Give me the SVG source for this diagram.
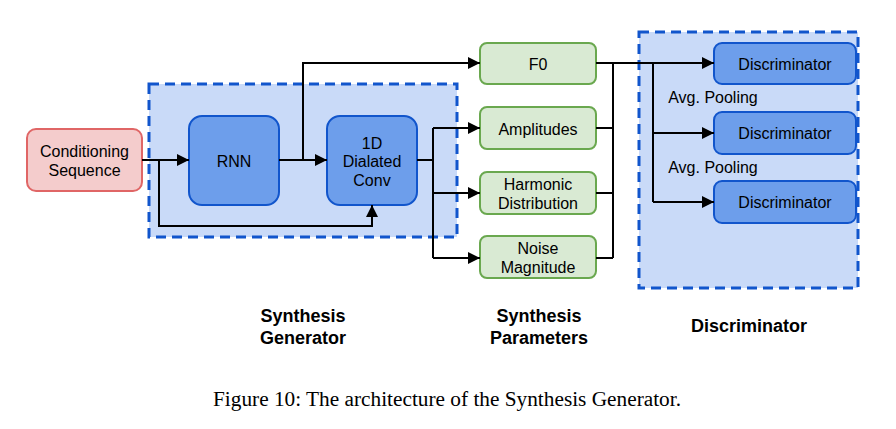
<svg xmlns="http://www.w3.org/2000/svg" width="896" height="429" viewBox="0 0 896 429">
<defs>
<style>
.t{font-family:"Liberation Sans",Arial,sans-serif;font-size:16px;fill:#000;text-anchor:middle;dominant-baseline:central}
.b{font-family:"Liberation Sans",Arial,sans-serif;font-size:18px;font-weight:bold;fill:#000;text-anchor:middle}
.grp{fill:#c9daf8;stroke:#1155cc;stroke-width:3;stroke-dasharray:10 6}
.blue{fill:#6d9eeb;stroke:#1155cc;stroke-width:2}
.green{fill:#d9ead3;stroke:#6aa84f;stroke-width:2}
.red{fill:#f4cccc;stroke:#e06666;stroke-width:2}
.c{fill:none;stroke:#000;stroke-width:2}
</style>
<marker id="ah" viewBox="0 0 10 10" refX="10" refY="5" markerWidth="7.5" markerHeight="6" markerUnits="strokeWidth" orient="auto">
<path d="M0,0 L10,5 L0,10 z" fill="#000"/>
</marker>
</defs>
<rect width="896" height="429" fill="#fff"/>
<g id="group-generator"><rect class="grp" x="149" y="84" width="308" height="153"/></g>
<g id="group-discriminator"><rect class="grp" x="639" y="32" width="219" height="256"/></g>
<g id="conditioning"><rect class="red" x="27" y="129" width="115" height="62" rx="9"/><text class="t" x="84.5" y="151">Conditioning</text><text class="t" x="84.5" y="170">Sequence</text></g>
<g id="rnn"><rect class="blue" x="189" y="116" width="90" height="89" rx="13"/><text class="t" x="234" y="161">RNN</text></g>
<g id="conv"><rect class="blue" x="327" y="116" width="90" height="89" rx="13"/><text class="t" x="372" y="143">1D</text><text class="t" x="372" y="161.5">Dialated</text><text class="t" x="372" y="180">Conv</text></g>
<g id="f0"><rect class="green" x="480" y="43" width="116" height="41" rx="7"/><text class="t" x="538" y="64">F0</text></g>
<g id="amplitudes"><rect class="green" x="480" y="107" width="116" height="42" rx="7"/><text class="t" x="538" y="129">Amplitudes</text></g>
<g id="harmonic"><rect class="green" x="480" y="172" width="116" height="42" rx="7"/><text class="t" x="538" y="184">Harmonic</text><text class="t" x="538" y="203">Distribution</text></g>
<g id="noise"><rect class="green" x="480" y="236" width="116" height="42" rx="7"/><text class="t" x="538" y="248">Noise</text><text class="t" x="538" y="267">Magnitude</text></g>
<g id="disc1"><rect class="blue" x="714" y="43" width="142" height="41" rx="8"/><text class="t" x="785" y="64">Discriminator</text></g>
<g id="disc2"><rect class="blue" x="714" y="112" width="142" height="42" rx="8"/><text class="t" x="785" y="133">Discriminator</text></g>
<g id="disc3"><rect class="blue" x="714" y="181" width="142" height="42" rx="8"/><text class="t" x="785" y="202">Discriminator</text></g>
<g id="connectors">
<path class="c" d="M142,160 H189" marker-end="url(#ah)"/>
<path class="c" d="M159,160 V226 H372 V205" marker-end="url(#ah)"/>
<path class="c" d="M279,160 H327" marker-end="url(#ah)"/>
<path class="c" d="M303,160 V63 H480" marker-end="url(#ah)"/>
<path class="c" d="M417,160 H433"/>
<path class="c" d="M433,128 V258"/>
<path class="c" d="M433,128 H480" marker-end="url(#ah)"/>
<path class="c" d="M433,193 H480" marker-end="url(#ah)"/>
<path class="c" d="M433,258 H480" marker-end="url(#ah)"/>
<path class="c" d="M596,128 H613 M596,193 H613 M596,258 H613 M613,63 V258"/>
<path class="c" d="M596,63 H714" marker-end="url(#ah)"/>
<path class="c" d="M653,63 V202"/>
<path class="c" d="M653,133 H714" marker-end="url(#ah)"/>
<path class="c" d="M653,202 H714" marker-end="url(#ah)"/>
</g>
<text class="t" x="713" y="97">Avg. Pooling</text>
<text class="t" x="713" y="167">Avg. Pooling</text>
<text class="b" x="303" y="322">Synthesis</text>
<text class="b" x="303" y="344">Generator</text>
<text class="b" x="539" y="322">Synthesis</text>
<text class="b" x="539" y="344">Parameters</text>
<text class="b" x="749" y="332">Discriminator</text>
<text x="447" y="406" style="font-family:'Liberation Serif','Times New Roman',serif;font-size:21.3px;fill:#000;text-anchor:middle">Figure 10: The architecture of the Synthesis Generator.</text>
</svg>
